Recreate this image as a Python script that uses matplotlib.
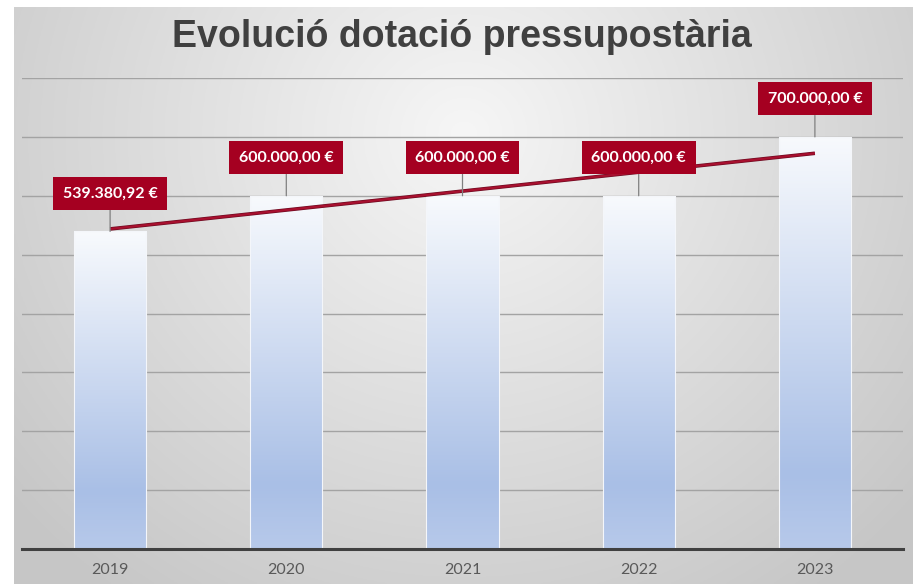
import numpy as np
import matplotlib
matplotlib.use('Agg')
import matplotlib.pyplot as plt
from matplotlib.colors import LinearSegmentedColormap

years = ['2019', '2020', '2021', '2022', '2023']
amounts = [539380.92, 600000.00, 600000.00, 600000.00, 700000.00]
y_ticks = [0, 100000, 200000, 300000, 400000, 500000, 600000, 700000, 800000]
title = 'Evolució dotació pressupostària'


def euro(v):
    s = '{:,.2f}'.format(v)
    return s.replace(',', 'X').replace('.', ',').replace('X', '.') + ' €'


W, H = 913, 584
fig = plt.figure(figsize=(W / 100, H / 100), dpi=100)
fig.patch.set_facecolor('white')

# radial grey background of the chart area
bg = fig.add_axes([14 / W, 0, 1 - 14 / W, 1 - 7 / H], zorder=-2)
gx, gy = np.meshgrid(np.linspace(0, 1, 400), np.linspace(0, 1, 300))
d = np.sqrt(((gx - 0.5) / 0.6) ** 2 + ((gy - 0.22) / 0.9) ** 2)
shade = 0.965 - 0.17 * np.clip(d, 0, 1.1)
bg.imshow(np.dstack([shade, shade, shade]), aspect='auto', extent=(0, 1, 1, 0))
bg.set_axis_off()

ax = fig.add_axes([22 / W, 35 / H, (903 - 22) / W, (549 - 78) / H])
ax.set_facecolor('none')

x = np.arange(len(years))
bars = ax.bar(x, amounts, width=0.41, facecolor='none', edgecolor='#f4f6fa', linewidth=0.8, zorder=3)

bar_cmap = LinearSegmentedColormap.from_list(
    'barfill', [(0, '#f8fafd'), (0.82, '#a9bfe6'), (1.0, '#b7c9ea')])
grad = np.linspace(0, 1, 256).reshape(-1, 1)
for b in bars:
    x0, w, h = b.get_x(), b.get_width(), b.get_height()
    im = ax.imshow(grad, cmap=bar_cmap, aspect='auto', extent=(x0, x0 + w, 0, h),
                   origin='upper', zorder=2)
    im.set_clip_path(b)

# linear trend line
k, c = np.polyfit(x, amounts, 1)
ax.plot([x[0], x[-1]], [k * x[0] + c, k * x[-1] + c], color='#6e0a20', lw=2.6, zorder=4,
        solid_capstyle='butt')
ax.plot([x[0], x[-1]], [k * x[0] + c, k * x[-1] + c], color='#a8102f', lw=1.6, zorder=4,
        solid_capstyle='butt')

for xi, v in zip(x, amounts):
    ax.annotate(euro(v), xy=(xi, v), xytext=(0, 38), textcoords='offset pixels',
                ha='center', va='center', color='white', fontsize=11.5, fontweight='bold',
                family=['Lato', 'DejaVu Sans'], zorder=6,
                bbox=dict(boxstyle='square,pad=0.6', fc='#a50021', ec='none'),
                arrowprops=dict(arrowstyle='-', color='#808080', lw=0.9, shrinkA=0, shrinkB=0))

ax.set_xlim(-0.5, len(years) - 0.5)
ax.set_ylim(0, y_ticks[-1])
ax.set_yticks(y_ticks)
ax.yaxis.grid(True, color='#a3a3a3', lw=1.0, zorder=0)
ax.set_axisbelow(True)
ax.tick_params(axis='y', left=False, labelleft=False)
ax.set_xticks(x)
ax.set_xticklabels(years, fontsize=11.5, color='#595959', family=['Lato', 'DejaVu Sans'])
ax.tick_params(axis='x', length=0, pad=10)
for s in ['top', 'left', 'right']:
    ax.spines[s].set_visible(False)
ax.spines['bottom'].set_color('#404040')
ax.spines['bottom'].set_linewidth(2.2)
ax.spines['bottom'].set_zorder(5)

fig.text(462 / W, 1 - 37 / H, title, ha='center', va='center', fontsize=27,
         fontweight='bold', color='#404040', family=['Liberation Sans', 'DejaVu Sans'])

fig.savefig('out.png', dpi=100)
